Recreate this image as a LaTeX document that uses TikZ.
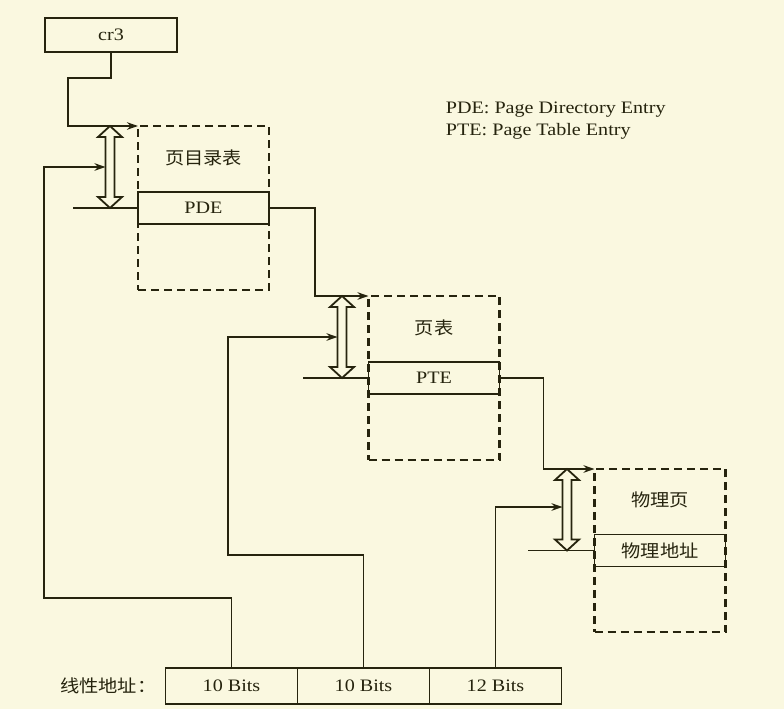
\documentclass[tikz,border=0pt]{standalone}
\usepackage{fontspec}
\setmainfont{Liberation Serif}[FakeStretch=1.15]
\newfontfamily\cjk{Noto Sans CJK SC}[FakeStretch=1.1]
\usetikzlibrary{
    arrows.meta,
    positioning
}
\definecolor{PaperCream}{RGB}{250,248,224}
\definecolor{DarkInk}{RGB}{38,36,14}
% hollow up-down arrow: x, top y, bottom y
\newcommand{\offsetarrow}[3]{%
    \draw[offsetmark] (#1-4.5,#2+11) -- (#1-12,#2+11) -- (#1,#2)
        -- (#1+12,#2+11) -- (#1+4.5,#2+11) -- (#1+4.5,#3-11)
        -- (#1+12,#3-11) -- (#1,#3) -- (#1-12,#3-11)
        -- (#1-4.5,#3-11) -- cycle;
}

\begin{document}
\begin{tikzpicture}[
    x=1pt, y=-1pt,
    >={Stealth[length=11pt,width=7.5pt]},
    line width=1.8pt,
    every node/.style={text=DarkInk, font=\fontsize{17.5}{18}\selectfont},
    cell/.style={draw=DarkInk, line width=1.7pt, minimum width=131pt,
        minimum height=32pt, inner sep=0pt, outer sep=0pt},
    bits/.style={cell, minimum width=132pt, minimum height=36pt},
    pagebox/.style={draw=DarkInk, line width=2.2pt,
        dash pattern=on 8pt off 5pt, minimum width=131pt,
        minimum height=164pt, inner sep=0pt, outer sep=0pt},
    cjklabel/.style={font=\cjk\fontsize{17.5}{18}\selectfont},
    offsetmark/.style={draw=DarkInk, line width=1.8pt, line join=miter},
    wire/.style={draw=DarkInk, line width=1.8pt}
]

\fill[PaperCream] (0,0) rectangle (784,709);
\useasboundingbox (0,0) rectangle (784,709);

% register
\node[cell, minimum width=132pt, minimum height=34pt] (cr3) at (111,35) {cr3};

% page directory
\node[pagebox] (dir) at (203.5,208) {};
\node[cell] (pde) at (dir.center) {PDE};
\node[cjklabel] (dirname) at ([yshift=-32pt]dir.north) {页目录表};

% page table
\node[pagebox] (pt) at (434,378) {};
\node[cell] (pte) at (pt.center) {PTE};
\node[cjklabel] (ptname) at ([yshift=-32pt]pt.north) {页表};

% physical page
\node[pagebox, minimum height=163pt] (pg) at (660,550.5) {};
\node[cell] (addr) at (pg.center) {\cjk 物理地址};
\node[cjklabel] (pgname) at ([yshift=-31pt]pg.north) {物理页};

% legend
\node[anchor=north west, align=left, inner sep=0pt,
    font=\fontsize{17.5}{22}\selectfont] (legend) at (445,101)
    {PDE: Page Directory Entry\\PTE: Page Table Entry};

% linear address
\node[bits] (b1) at (231.5,686) {10 Bits};
\node[bits, right=0pt of b1] (b2) {10 Bits};
\node[bits, right=0pt of b2] (b3) {12 Bits};
\node[cjklabel, left=5pt of b1] (linaddr) {线性地址：};

% offset arrows
\offsetarrow{110}{126}{208}
\offsetarrow{342}{296}{378}
\offsetarrow{567}{469}{550.5}

\coordinate (off1) at (105.5,167);
\coordinate (off2) at (337.5,337);
\coordinate (off3) at (562.5,507);

% base addresses
\draw[wire, ->] (cr3.south) -- ++(0,26) -- ++(-43,0) |- (dir.north west);
\draw[wire, ->] (pde.east) -- ++(46,0) |- (pt.north west);
\draw[wire, ->] (pte.east) -- ++(44,0) |- (pg.north west);

\draw[wire] (pde.west) -- ++(-65,0);
\draw[wire] (pte.west) -- ++(-66,0);
\draw[wire] (addr.west) -- ++(-67,0);

% index fields
\draw[wire, ->] (b1.north) -- ++(0,-70) -- ++(-187.5,0) |- (off1);
\draw[wire, ->] (b2.north) -- ++(0,-113) -- ++(-135.5,0) |- (off2);
\draw[wire, ->] (b3.north) |- (off3);

\end{tikzpicture}
\end{document}
